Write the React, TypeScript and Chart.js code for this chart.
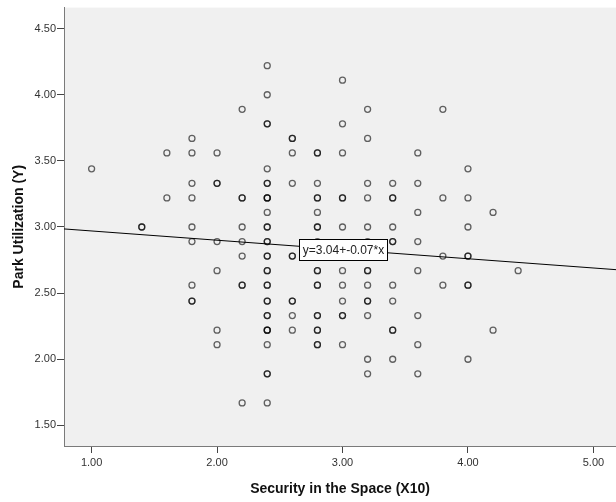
import React, { useEffect, useRef } from "react";
import { Chart, registerables } from "chart.js";

Chart.register(...registerables);

// Security level (X10) for each column of observations
const securityLevels = [1.0, 1.4, 1.6, 1.8, 2.0, 2.2, 2.4, 2.6, 2.8, 3.0, 3.2, 3.4, 3.6, 3.8, 4.0, 4.2, 4.4];

// Park utilization scores observed at each security level (repeats are coincident cases)
const utilizationAtLevel: number[][] = [
  [3.44],
  [3.0, 3.0],
  [3.56, 3.22],
  [3.67, 3.56, 3.33, 3.22, 3.0, 2.89, 2.56, 2.44, 2.44],
  [3.56, 3.33, 3.33, 2.89, 2.67, 2.22, 2.11],
  [3.89, 3.22, 3.22, 3.0, 2.89, 2.78, 2.56, 2.56, 1.67],
  [4.22, 4.0, 3.78, 3.78, 3.44, 3.33, 3.33, 3.22, 3.22, 3.22, 3.11, 3.0, 3.0, 2.89, 2.89, 2.78, 2.78, 2.67, 2.67, 2.56, 2.56, 2.44, 2.44, 2.33, 2.33, 2.22, 2.22, 2.22, 2.11, 1.89, 1.89, 1.67],
  [3.67, 3.67, 3.56, 3.33, 2.78, 2.78, 2.44, 2.44, 2.33, 2.22],
  [3.56, 3.56, 3.33, 3.22, 3.22, 3.11, 3.0, 3.0, 2.89, 2.67, 2.67, 2.56, 2.56, 2.33, 2.33, 2.22, 2.22, 2.11, 2.11],
  [4.11, 3.78, 3.56, 3.22, 3.22, 3.0, 2.67, 2.56, 2.44, 2.33, 2.33, 2.11],
  [3.89, 3.67, 3.33, 3.22, 3.0, 2.89, 2.67, 2.67, 2.56, 2.44, 2.44, 2.33, 2.0, 1.89],
  [3.33, 3.22, 3.22, 3.0, 2.89, 2.89, 2.56, 2.44, 2.22, 2.22, 2.0],
  [3.56, 3.33, 3.11, 2.89, 2.67, 2.33, 2.11, 1.89],
  [3.89, 3.22, 2.78, 2.56],
  [3.44, 3.22, 3.0, 2.78, 2.78, 2.56, 2.56, 2.0],
  [3.11, 2.22],
  [2.67],
];

// Linear fit shown on the plot
const fitIntercept = 3.04;
const fitSlope = -0.07;
const fitLabelAtX = 3.0;

// Axis ranges and tick labels
const xRange = [0.78, 5.18];
const yRange = [1.344, 4.659];
const xTicks = [1.0, 2.0, 3.0, 4.0, 5.0];
const yTicks = [1.5, 2.0, 2.5, 3.0, 3.5, 4.0, 4.5];

const FONT = 'Arial, "Liberation Sans", sans-serif';

const backgroundPlugin = {
  id: "plotBackground",
  beforeDraw(chart: any) {
    const { ctx, chartArea, width, height } = chart;
    ctx.save();
    ctx.fillStyle = "#ffffff";
    ctx.fillRect(0, 0, width, height);
    ctx.fillStyle = "#f0f0f0";
    ctx.fillRect(chartArea.left, chartArea.top, chartArea.right - chartArea.left, chartArea.bottom - chartArea.top);
    ctx.restore();
  },
};

const fitLabelPlugin = {
  id: "fitLabel",
  afterDatasetsDraw(chart: any) {
    const { ctx, scales } = chart;
    const cx = scales.x.getPixelForValue(fitLabelAtX);
    const cy = scales.y.getPixelForValue(fitIntercept + fitSlope * fitLabelAtX);
    const text = `y=${fitIntercept.toFixed(2)}+${fitSlope.toFixed(2)}*x`;
    ctx.save();
    ctx.font = `12px ${FONT}`;
    const w = Math.round(ctx.measureText(text).width) + 7;
    const h = 21;
    const left = Math.round(cx - w / 2) + 0.5;
    const top = Math.round(cy - h / 2) + 0.5;
    ctx.fillStyle = "#ffffff";
    ctx.fillRect(left, top, w, h);
    ctx.strokeStyle = "#000000";
    ctx.lineWidth = 1;
    ctx.strokeRect(left, top, w, h);
    ctx.fillStyle = "#222222";
    ctx.textAlign = "center";
    ctx.textBaseline = "middle";
    ctx.fillText(text, left + w / 2, top + h / 2 + 0.5);
    ctx.restore();
  },
};

export default function App() {
  const canvasRef = useRef<HTMLCanvasElement | null>(null);

  useEffect(() => {
    if (!canvasRef.current) return;

    const points: { x: number; y: number }[] = [];
    securityLevels.forEach((x, i) => {
      utilizationAtLevel[i].forEach((y) => points.push({ x, y }));
    });

    const fitLine = [
      { x: xRange[0], y: fitIntercept + fitSlope * xRange[0] },
      { x: xRange[1], y: fitIntercept + fitSlope * xRange[1] },
    ];

    const chart = new Chart(canvasRef.current, {
      type: "scatter",
      data: {
        datasets: [
          {
            label: "Park Utilization",
            data: points,
            pointStyle: "circle",
            pointRadius: 3,
            pointBorderWidth: 1.3,
            pointBackgroundColor: "rgba(0,0,0,0)",
            pointBorderColor: "rgba(0,0,0,0.6)",
            showLine: false,
          },
          {
            type: "line",
            label: "Fit",
            data: fitLine,
            borderColor: "#000000",
            borderWidth: 1,
            pointRadius: 0,
            fill: false,
          },
        ],
      },
      options: {
        animation: false,
        responsive: false,
        layout: { autoPadding: false, padding: { top: 7, right: 0, left: 0, bottom: 0 } },
        plugins: {
          legend: { display: false },
          tooltip: { enabled: false },
        },
        scales: {
          x: {
            type: "linear",
            min: xRange[0],
            max: xRange[1],
            afterBuildTicks(scale: any) {
              scale.ticks = xTicks.map((v) => ({ value: v }));
            },
            afterFit(scale: any) {
              scale.height = 56;
            },
            ticks: {
              callback: (v: any) => Number(v).toFixed(2),
              font: { family: FONT, size: 11 },
              color: "#333333",
              padding: 3,
              maxRotation: 0,
            },
            grid: {
              drawOnChartArea: false,
              drawTicks: true,
              tickLength: 7,
              tickColor: "#444444",
              lineWidth: 1,
            },
            border: { display: true, color: "#7a7a7a", width: 1 },
            title: {
              display: true,
              text: "Security in the Space (X10)",
              font: { family: FONT, size: 14, weight: "bold" },
              color: "#111111",
              padding: { top: 4.5, bottom: 4 },
            },
          },
          y: {
            type: "linear",
            min: yRange[0],
            max: yRange[1],
            afterBuildTicks(scale: any) {
              scale.ticks = yTicks.map((v) => ({ value: v }));
            },
            afterFit(scale: any) {
              scale.width = 64;
            },
            ticks: {
              callback: (v: any) => Number(v).toFixed(2),
              font: { family: FONT, size: 11 },
              color: "#333333",
              padding: 1,
            },
            grid: {
              drawOnChartArea: false,
              drawTicks: true,
              tickLength: 7,
              tickColor: "#444444",
              lineWidth: 1,
            },
            border: { display: true, color: "#7a7a7a", width: 1 },
            title: {
              display: true,
              text: "Park Utilization (Y)",
              font: { family: FONT, size: 14, weight: "bold" },
              color: "#111111",
              padding: { top: 11, bottom: 4 },
            },
          },
        },
      },
      plugins: [backgroundPlugin, fitLabelPlugin],
    });

    return () => chart.destroy();
  }, []);

  return (
    <div style={{ position: "absolute", left: 0, top: 0, width: 616, height: 502, background: "#ffffff" }}>
      <canvas ref={canvasRef} width={616} height={502} />
    </div>
  );
}
